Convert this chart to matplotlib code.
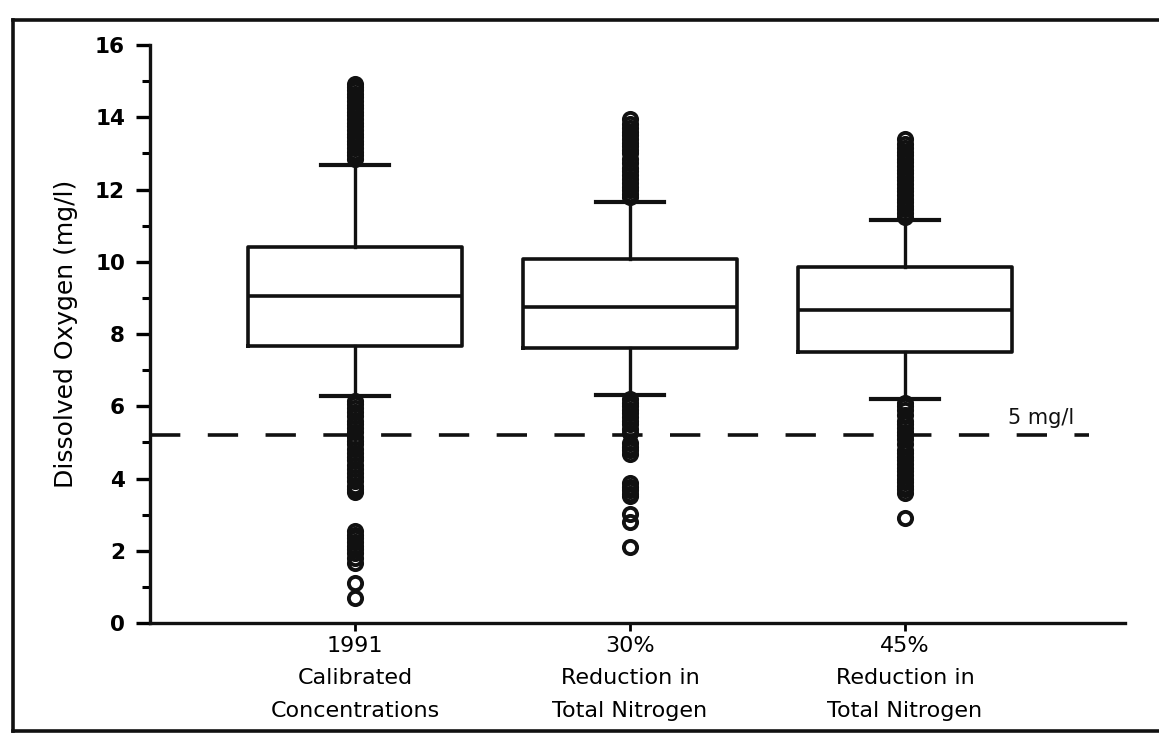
import matplotlib.pyplot as plt
from matplotlib.lines import Line2D

plt.rcParams['font.family'] = ['DejaVu Sans']

scenarios = ['1991\nCalibrated\nConcentrations',
             '30%\nReduction in\nTotal Nitrogen',
             '45%\nReduction in\nTotal Nitrogen']

whisker_low = [6.28, 6.30, 6.21]
q1 = [7.68, 7.60, 7.51]
medians = [9.04, 8.76, 8.66]
q3 = [10.42, 10.08, 9.86]
whisker_high = [12.69, 11.66, 11.15]

outliers_1991 = [12.85, 12.95, 13.05, 13.15, 13.25, 13.35, 13.45, 13.55, 13.65, 13.75,
                 13.85, 13.95, 14.05, 14.15, 14.25, 14.35, 14.45, 14.55, 14.65, 14.75,
                 14.85, 14.92,
                 6.15, 6.05, 5.95, 5.85, 5.72, 5.6, 5.5, 5.4, 5.28, 5.15, 5.05, 4.95,
                 4.82, 4.7, 4.6, 4.5, 4.38, 4.25, 4.15, 4.05, 3.92, 3.8, 3.7, 3.62,
                 2.54, 2.44, 2.34, 2.24, 2.14, 2.04, 1.93, 1.8, 1.65, 1.1, 0.7]
outliers_30 = [11.78, 11.88, 11.98, 12.08, 12.18, 12.3, 12.4, 12.5, 12.6, 12.72,
               12.85, 13.0, 13.1, 13.2, 13.3, 13.4, 13.5, 13.6, 13.7, 13.8, 13.95,
               6.2, 6.1, 6.0, 5.9, 5.8, 5.7, 5.6, 5.5, 5.38, 5.25, 4.97, 4.88, 4.78,
               4.67, 3.87, 3.77, 3.67, 3.58, 3.51, 3.01, 2.79, 2.1]
outliers_45 = [11.25, 11.35, 11.45, 11.55, 11.65, 11.75, 11.85, 11.95, 12.05, 12.15,
               12.25, 12.35, 12.45, 12.55, 12.65, 12.75, 12.85, 12.95, 13.05, 13.15,
               13.25, 13.39,
               6.1, 6.0, 5.9, 5.75, 5.6, 5.5, 5.4, 5.3, 5.2, 5.1, 4.95, 4.8, 4.7,
               4.6, 4.5, 4.4, 4.3, 4.2, 4.1, 4.0, 3.9, 3.8, 3.7, 3.61, 2.92]
outliers = [outliers_1991, outliers_30, outliers_45]

threshold = 5.2
threshold_label = '5 mg/l'

ink = '#111111'

stats = []
for i in range(len(scenarios)):
    stats.append({'med': medians[i], 'q1': q1[i], 'q3': q3[i],
                  'whislo': whisker_low[i], 'whishi': whisker_high[i],
                  'fliers': outliers[i]})

fig = plt.figure(figsize=(11.59, 7.5), dpi=100)
ax = fig.add_axes([0.1294, 0.1693, 0.8413, 0.7707])

ax.bxp(stats, positions=[1, 2, 3], widths=0.78, capwidths=0.25,
       boxprops=dict(color=ink, linewidth=2.6),
       medianprops=dict(color=ink, linewidth=2.6),
       whiskerprops=dict(color=ink, linewidth=2.4),
       capprops=dict(color=ink, linewidth=3.0),
       flierprops=dict(marker='o', markersize=9.5, markerfacecolor='none',
                       markeredgecolor=ink, markeredgewidth=2.8, linestyle='none'))

ax.plot([0.255, 3.67], [threshold, threshold], color=ink, linewidth=2.6,
        dashes=(8.4, 7.6), zorder=1)
ax.text(3.375, threshold + 0.3, threshold_label, fontsize=15, color=ink,
        va='baseline', ha='left')

ax.set_xlim(0.255, 3.8)
ax.set_ylim(0, 16)
ax.set_yticks(range(0, 17, 2))
ax.set_yticks(range(1, 17, 2), minor=True)
ax.set_yticklabels([str(v) for v in range(0, 17, 2)], fontsize=15.5, fontweight='bold')
ax.set_xticks([1, 2, 3])
ax.set_xticklabels(scenarios, fontsize=16, linespacing=1.8)
ax.set_ylabel('Dissolved Oxygen (mg/l)', fontsize=18, labelpad=12)

for side in ['top', 'right']:
    ax.spines[side].set_visible(False)
for side in ['left', 'bottom']:
    ax.spines[side].set_linewidth(2.4)
    ax.spines[side].set_color(ink)
ax.tick_params(axis='y', which='major', length=10, width=2.4, direction='out', pad=8)
ax.tick_params(axis='y', which='minor', length=6, width=2.2, direction='out')
ax.tick_params(axis='x', length=6, width=2.0, direction='out', pad=3)

# outer frame of the scanned figure
fig.add_artist(Line2D([0.011, 1.0], [0.973, 0.973], color=ink, linewidth=2.6))
fig.add_artist(Line2D([0.011, 0.011], [0.973, 0.025], color=ink, linewidth=2.6))
fig.add_artist(Line2D([0.011, 1.0], [0.025, 0.025], color=ink, linewidth=2.6))

fig.savefig('out.png', dpi=100, facecolor='white')
